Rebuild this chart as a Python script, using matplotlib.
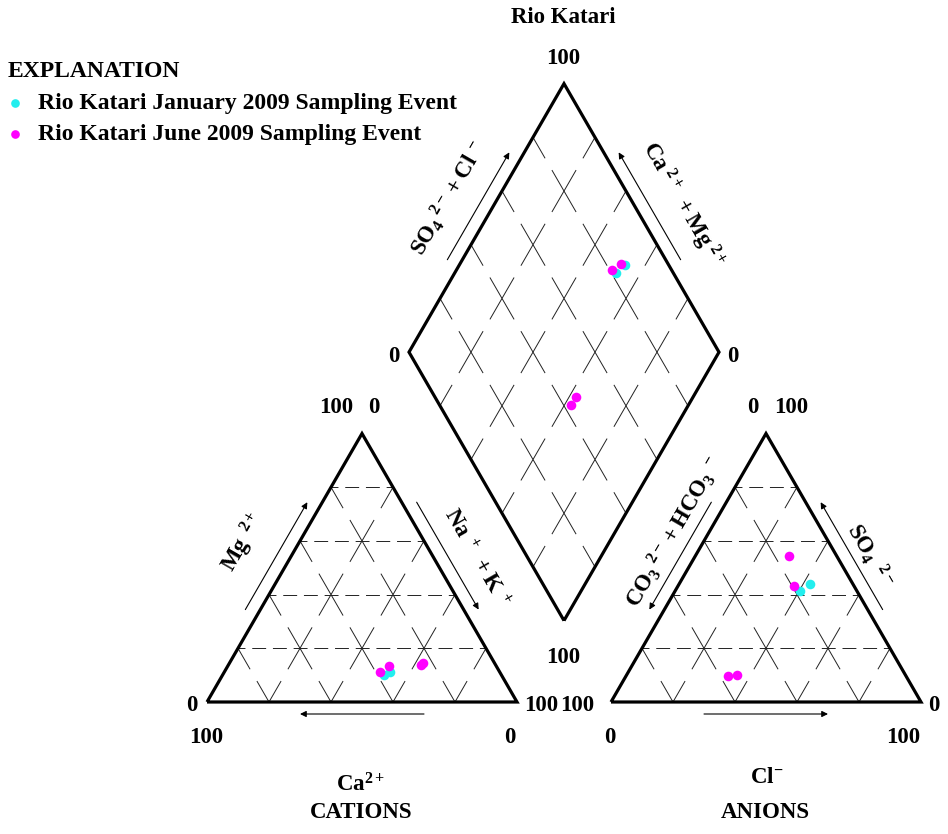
import numpy as np
import matplotlib
matplotlib.use('Agg')
import matplotlib.pyplot as plt
from matplotlib.collections import LineCollection

plt.rcParams['font.family'] = ['Liberation Serif', 'DejaVu Serif']
plt.rcParams['font.weight'] = 'bold'
plt.rcParams['mathtext.fontset'] = 'custom'
plt.rcParams['mathtext.rm'] = 'Liberation Serif:bold'
plt.rcParams['mathtext.it'] = 'Liberation Serif:bold'
plt.rcParams['mathtext.bf'] = 'Liberation Serif:bold'
plt.rcParams['mathtext.default'] = 'rm'
plt.rcParams['lines.scale_dashes'] = False

# percent of meq/L, one entry per sample
jan_ca = [37.8, 35.4]
jan_mg = [10.2, 11.1]
jan_nak = [52.0, 53.5]
jan_hco3 = [18.4, 14.0]
jan_so4 = [41.5, 43.9]
jan_cl = [40.1, 42.1]

jun_ca = [38.6, 34.8, 24.2, 23.1]
jun_mg = [11.3, 13.3, 13.6, 14.5]
jun_nak = [50.1, 51.9, 62.2, 62.4]
jun_hco3 = [19.4, 15.2, 57.4, 54.4]
jun_so4 = [43.3, 54.5, 9.7, 10.2]
jun_cl = [37.3, 30.3, 32.9, 35.4]

labels = ['Rio Katari January 2009 Sampling Event', 'Rio Katari June 2009 Sampling Event']
colors = ['#22eeee', '#ff00ff']

# layout (axes data units = pixels, y down)
X0, Y0 = 207, 702
S = 310
H = S * np.sqrt(3) / 2
GAP = 94
AX0 = X0 + S + GAP
BX, BY = X0 + S + GAP / 2, Y0 - GAP * np.sqrt(3) / 2
LX, LY = BX - S / 2, BY - H
RX, RY = BX + S / 2, BY - H
TX, TY = BX, BY - 2 * H


def cation_xy(mg, nak):
    mg = np.asarray(mg) / 100
    nak = np.asarray(nak) / 100
    return X0 + S * (nak + mg / 2), Y0 - H * mg


def anion_xy(so4, cl):
    so4 = np.asarray(so4) / 100
    cl = np.asarray(cl) / 100
    return AX0 + S * (cl + so4 / 2), Y0 - H * so4


def diamond_xy(nak, so4, cl):
    m = 1 - np.asarray(nak) / 100
    s = (np.asarray(so4) + np.asarray(cl)) / 100
    return BX + S / 2 * (s - m), BY - H * (m + s)


fig = plt.figure(figsize=(9.48, 8.34), dpi=100)
ax = fig.add_axes([0, 0, 1, 1])
ax.set_xlim(0, 948)
ax.set_ylim(834, 0)
ax.axis('off')

hgrid = dict(color='#222222', lw=0.7, linestyle=(5, (10, 4.9)))
edge = dict(color='black', lw=2.3, solid_joinstyle='miter', solid_capstyle='butt')


def split(p, q, gap=0.22):
    # a grid cell edge drawn solid near both lattice nodes, with a gap in the middle
    p = np.array(p, float)
    q = np.array(q, float)
    a = 0.5 - gap / 2
    return [[p, p + a * (q - p)], [p + (1 - a) * (q - p), q]]


def tri(ox):
    node = lambda i, j: (ox + S * (i + j / 2) / 5, Y0 - H * j / 5)
    segs = []
    for j in range(5):
        for i in range(1, 5 - j):
            segs += split(node(i, j), node(i, j + 1))
        for i in range(1, 5 - j):
            segs += split(node(i, j), node(i - 1, j + 1))
    ax.add_collection(LineCollection(segs, colors='#222222', linewidths=0.7))
    for k in range(1, 5):
        f = k / 5
        ax.plot([ox + S * f / 2, ox + S - S * f / 2], [Y0 - H * f] * 2, **hgrid)
    ax.plot([ox, ox + S / 2, ox + S, ox], [Y0, Y0 - H, Y0, Y0], **edge)


tri(X0)
tri(AX0)

dnode = lambda a, b: (BX + (a * (LX - BX) + b * (RX - BX)) / 5, BY + (a * (LY - BY) + b * (RY - BY)) / 5)
segs = []
for a in range(5):
    for b in range(1, 5):
        segs += split(dnode(a, b), dnode(a + 1, b))
        segs += split(dnode(b, a), dnode(b, a + 1))
ax.add_collection(LineCollection(segs, colors='#222222', linewidths=0.7))
ax.plot([BX, LX, TX, RX, BX], [BY, LY, TY, RY, BY], **edge)


def edge_arrow(p0, p1, out, t0, t1, d=13):
    p0 = np.array(p0, float)
    p1 = np.array(p1, float)
    n = np.array(out, float)
    n = n / np.hypot(*n)
    a = p0 + t0 * (p1 - p0) + d * n
    b = p0 + t1 * (p1 - p0) + d * n
    ax.annotate('', xy=b, xytext=a,
                arrowprops=dict(arrowstyle='-|>', lw=0.8, color='black',
                                mutation_scale=9, shrinkA=0, shrinkB=0))


left_out = (-0.866, -0.5)
right_out = (0.866, -0.5)
edge_arrow((X0, Y0), (X0 + S / 2, Y0 - H), left_out, 0.32, 0.72)
edge_arrow((X0 + S / 2, Y0 - H), (X0 + S, Y0), right_out, 0.28, 0.68)
edge_arrow((X0 + S, Y0), (X0, Y0), (0, 1), 0.30, 0.70, 12)
edge_arrow((AX0, Y0), (AX0 + S, Y0), (0, 1), 0.30, 0.70, 12)
edge_arrow((AX0 + S / 2, Y0 - H), (AX0, Y0), left_out, 0.28, 0.68)
edge_arrow((AX0 + S, Y0), (AX0 + S / 2, Y0 - H), right_out, 0.32, 0.72)
edge_arrow((LX, LY), (TX, TY), left_out, 0.32, 0.72)
edge_arrow((RX, RY), (TX, TY), right_out, 0.32, 0.72)

# data points
handles = []
for ca, mg, nak, hco3, so4, cl, c, lab in [
        (jan_ca, jan_mg, jan_nak, jan_hco3, jan_so4, jan_cl, colors[0], labels[0]),
        (jun_ca, jun_mg, jun_nak, jun_hco3, jun_so4, jun_cl, colors[1], labels[1])]:
    h = ax.scatter(*cation_xy(mg, nak), s=48, color=c, lw=0, zorder=5, label=lab)
    ax.scatter(*anion_xy(so4, cl), s=48, color=c, lw=0, zorder=5)
    ax.scatter(*diamond_xy(nak, so4, cl), s=48, color=c, lw=0, zorder=5)
    handles.append(h)

fs = 16.5
t = dict(fontsize=fs, ha='center', va='baseline')
ax.text(563, 23, 'Rio Katari', **t)
ax.text(563, 64, '100', **t)
ax.text(394, 362, '0', **t)
ax.text(733, 362, '0', **t)
ax.text(563, 663, '100', **t)

ax.text(336, 413, '100', **t)
ax.text(374, 413, '0', **t)
ax.text(192, 711, '0', **t)
ax.text(541, 711, '100', **t)
ax.text(206, 743, '100', **t)
ax.text(510, 743, '0', **t)

ax.text(753, 413, '0', **t)
ax.text(791, 413, '100', **t)
ax.text(577, 711, '100', **t)
ax.text(934, 711, '0', **t)
ax.text(610, 743, '0', **t)
ax.text(903, 743, '100', **t)

ax.text(361, 792, r'$\mathrm{Ca}^{2+}$', **t)
ax.text(361, 818, 'CATIONS', **t)
ax.text(767, 783, r'$\mathrm{Cl}^{-}$', **t)
ax.text(765, 818, 'ANIONS', **t)

r = dict(fontsize=fs, ha='center', va='center', rotation_mode='anchor')
ax.text(244, 543, r'$\mathrm{Mg}^{\ \ 2+}$', rotation=60, **r)
ax.text(476, 558, r'$\mathrm{Na}^{\ +}\ +\mathrm{K}^{\ +}$', rotation=-60, **r)
ax.text(674, 532, r'$\mathrm{CO}_3{}^{\ 2-}+\mathrm{HCO}_3{}^{\ -}$', rotation=60, **r)
ax.text(870, 555, r'$\mathrm{SO}_4{}^{\ \ 2-}$', rotation=-60, **r)
ax.text(449, 198, r'$\mathrm{SO}_4{}^{\ 2-}+\mathrm{Cl}^{\ -}$', rotation=60, **r)
ax.text(683, 205, r'$\mathrm{Ca}^{\ 2+}\ +\mathrm{Mg}^{\ 2+}$', rotation=-60, **r)

leg = ax.legend(handles=handles, title='EXPLANATION', loc='upper left',
                bbox_to_anchor=(0.003, 0.932), frameon=False, alignment='left',
                prop=dict(weight='bold', size=17),
                title_fontproperties=dict(weight='bold', size=17),
                handlelength=0.6, handletextpad=0.7, labelspacing=0.42,
                borderpad=0.2, borderaxespad=0, markerscale=0.9)

fig.savefig('out.png', dpi=100)
